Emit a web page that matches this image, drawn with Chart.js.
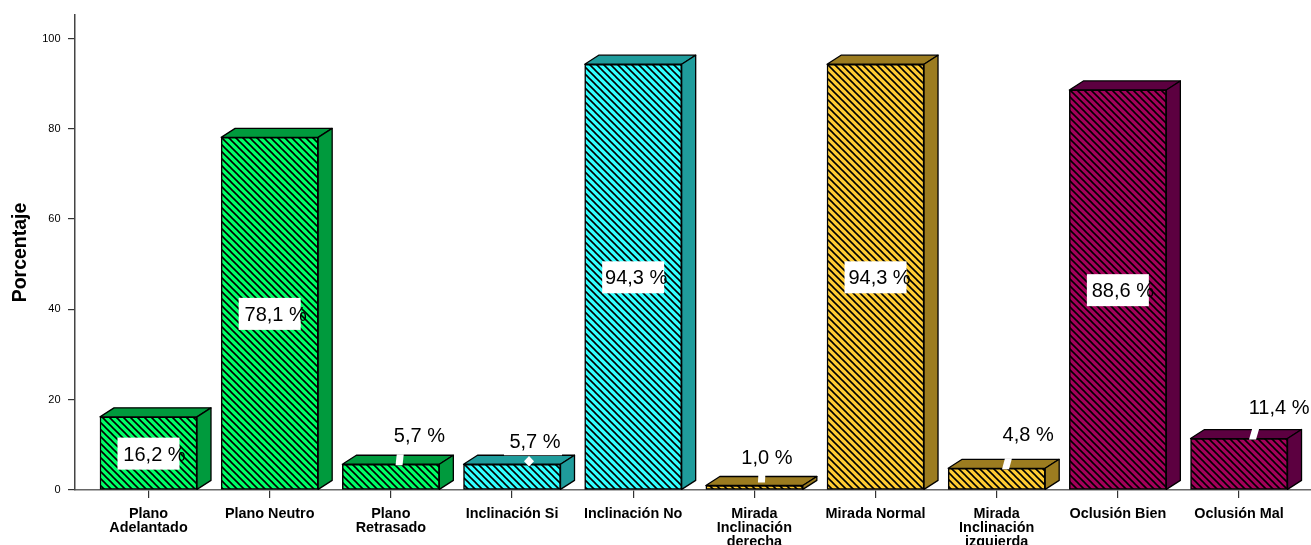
<!DOCTYPE html>
<html><head><meta charset="utf-8">
<style>html,body{margin:0;padding:0;background:#fff;overflow:hidden}#w{width:1311px;height:545px;position:relative}</style>
<script src="https://cdn.jsdelivr.net/npm/chart.js@4"></script>
</head><body><div id="w"><canvas id="c"></canvas></div>
<script>
const categories = [["Plano","Adelantado"],"Plano Neutro",["Plano","Retrasado"],"Inclinación Si","Inclinación No",["Mirada","Inclinación","derecha"],"Mirada Normal",["Mirada","Inclinación","izquierda"],"Oclusión Bien","Oclusión Mal"];
const percentages = [16.2,78.1,5.7,5.7,94.3,1.0,94.3,4.8,88.6,11.4];
const valueLabels = ["16,2 %","78,1 %","5,7 %","5,7 %","94,3 %","1,0 %","94,3 %","4,8 %","88,6 %","11,4 %"];
const faceColors = ["#00ff66","#00ff66","#00ff66","#33ffff","#33ffff","#ffcc33","#ffcc33","#ffcc33","#a3005a","#a3005a"];
const sideColors = ["#009a3d","#009a3d","#009a3d","#1f9c9c","#1f9c9c","#9c7c20","#9c7c20","#9c7c20","#5c0040","#5c0040"];
// Layout of the value labels, in px relative to each bar's centre and top.
const insideShift = {0:0,1:0,4:-3,6:-2,8:-1};
const callouts = {
  2:{tx:28.5,ty:-29,leader:[4.7,5.9,1,-10]},
  3:{tx:23,ty:-23,dot:[17,-3]},
  5:{tx:12.5,ty:-28.5,leader:[3.6,4,-3,-11]},
  7:{tx:31.5,ty:-33.5,leader:[5.3,8.3,1,-10]},
  9:{tx:40,ty:-31.5,leader:[10,13.5,1,-11]}
};
const DEPTH_X=14, DEPTH_Y=9, PERIOD=7;

function hatch(color){
  const p=document.createElement('canvas');p.width=PERIOD;p.height=PERIOD;
  const g=p.getContext('2d');
  g.fillStyle=color;g.fillRect(0,0,PERIOD,PERIOD);
  g.strokeStyle='#000';g.lineWidth=1.6;
  [-PERIOD,0,PERIOD].forEach(x=>{g.beginPath();g.moveTo(x-1,-1);g.lineTo(x+PERIOD+1,PERIOD+1);g.stroke();});
  return g.createPattern(p,'repeat');
}
function poly(ctx,pts,fill,stroke){
  ctx.beginPath();pts.forEach((q,i)=>i?ctx.lineTo(q[0],q[1]):ctx.moveTo(q[0],q[1]));ctx.closePath();
  ctx.fillStyle=fill;ctx.fill();
  if(stroke){ctx.strokeStyle=stroke;ctx.lineWidth=1.3;ctx.stroke();}
}
const bar3d={id:'bar3d',
  beforeDatasetsDraw(chart){
    const ctx=chart.ctx;ctx.save();ctx.lineJoin='round';
    chart.getDatasetMeta(0).data.forEach((b,i)=>{
      const l=b.x-b.width/2,r=b.x+b.width/2,t=b.y,z=b.base;
      poly(ctx,[[l,t],[l+DEPTH_X,t-DEPTH_Y],[r+DEPTH_X,t-DEPTH_Y],[r,t]],sideColors[i],'#000');
      poly(ctx,[[r,t],[r+DEPTH_X,t-DEPTH_Y],[r+DEPTH_X,z-DEPTH_Y],[r,z]],sideColors[i],'#000');
    });
    ctx.restore();
  },
  afterDatasetsDraw(chart){
    const ctx=chart.ctx;ctx.save();
    ctx.font='20px "Liberation Sans"';ctx.textAlign='center';ctx.textBaseline='middle';
    chart.getDatasetMeta(0).data.forEach((b,i)=>{
      const c=callouts[i];let tx,ty;
      if(c){
        tx=b.x+c.tx;ty=b.y+c.ty;
        ctx.fillStyle='#fff';ctx.fillRect(tx-31,ty-16,58,30);
        if(c.leader){
          const [db,dt,y0,y1]=c.leader;
          poly(ctx,[[b.x+db,b.y+y0],[b.x+db+7,b.y+y0],[b.x+dt+7,b.y+y1],[b.x+dt,b.y+y1]],'#fff');
        }
        if(c.dot){
          const x=b.x+c.dot[0],y=b.y+c.dot[1];
          poly(ctx,[[x-5,y],[x,y-5.3],[x+5,y],[x,y+5.3]],'#fff');
        }
      }else{
        const mid=(b.y+b.base)/2;
        ctx.fillStyle='#fff';ctx.fillRect(b.x-31,mid-15.5,62,32);
        tx=b.x+6+insideShift[i];ty=mid+1;
      }
      ctx.fillStyle='#000';ctx.fillText(valueLabels[i],tx,ty+1);
    });
    ctx.restore();
  }
};
new Chart(document.getElementById('c'),{
  type:'bar',
  plugins:[bar3d],
  data:{datasets:[{
    data:percentages.map((v,i)=>({x:i,y:v})),
    backgroundColor:faceColors.map(hatch),
    borderColor:'#000',borderWidth:1.5,borderSkipped:false,
    barThickness:97
  }]},
  options:{
    responsive:true,maintainAspectRatio:false,animation:false,
    layout:{padding:{top:15,left:0,right:0,bottom:0}},
    plugins:{legend:{display:false},tooltip:{enabled:false}},
    scales:{
      x:{type:'linear',min:-0.6066,max:9.594,offset:false,
        afterFit(s){s.height=55;},
        grid:{offset:false,drawOnChartArea:false,color:'#333',tickLength:8,lineWidth:1.2},
        border:{color:'#666',width:1.5},
        ticks:{stepSize:1,includeBounds:false,autoSkip:false,maxRotation:0,minRotation:0,padding:9,color:'#000',
          font:{family:'"Liberation Sans"',weight:'bold',size:14.4,lineHeight:'14px'},
          callback:v=>categories[v]}
      },
      y:{min:0,max:105.2,
        afterFit(s){s.width=75;},
        grid:{drawOnChartArea:false,color:'#333',tickLength:7,lineWidth:1.2},
        border:{color:'#444',width:1.5},
        title:{display:true,text:'Porcentaje',color:'#000',padding:{top:9,bottom:0},
          font:{family:'"Liberation Sans"',weight:'bold',size:19.5}},
        ticks:{stepSize:20,includeBounds:false,padding:7.5,color:'#000',font:{family:'"Liberation Sans"',size:11}}
      }
    }
  }
});
</script></body></html>
